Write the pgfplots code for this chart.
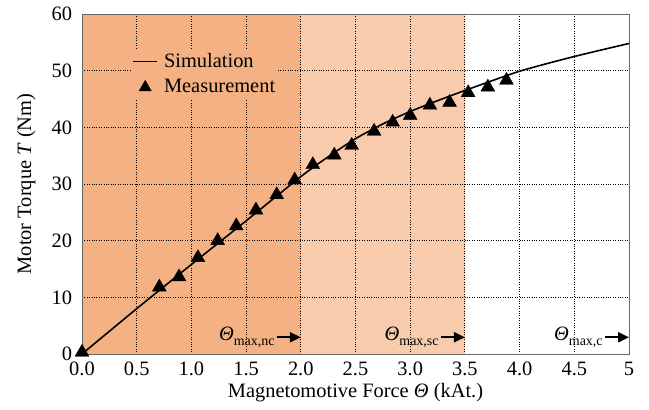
\documentclass[border=0pt]{standalone}
\usepackage{fontspec}
\setmainfont{Liberation Serif}
\usepackage{pgfplots}
\pgfplotsset{compat=1.18}
\usetikzlibrary{arrows.meta}
\definecolor{orDark}{HTML}{F4B183}
\definecolor{orLight}{HTML}{F8CBAD}
\newcommand{\thsub}[1]{\textit{Θ}\raisebox{-0.45ex}{\fontsize{14}{15}\selectfont #1}}
\pgfplotsset{
  shortline legend/.style={legend image code/.code={\draw[##1] (0bp,0bp) -- (24bp,0bp);}},
  mark legend/.style={legend image code/.code={\draw[##1, mark size=7bp] plot coordinates {(12bp,0bp)};}},
}
\begin{document}
\fontsize{20.5}{24}\selectfont
\begin{tikzpicture}[font=\fontsize{20.5}{24}\selectfont]
\begin{axis}[
  set layers,
  scale only axis,
  width=547bp, height=340bp,
  xmin=0, xmax=5, ymin=0, ymax=60,
  xtick={0,0.5,1,1.5,2,2.5,3,3.5,4,4.5,5},
  xticklabels={0.0,0.5,1.0,1.5,2.0,2.5,3.0,3.5,4.0,4.5,5},
  ytick={0,10,20,30,40,50,60},
  major tick length=0pt,
  grid=major,
  grid style={dotted, black, line width=0.9bp},
  axis line style={gray!80!black, line width=0.8bp},
  /pgf/number format/assume math mode=true,
  tick label style={font=\fontsize{20.5}{24}\selectfont},
  xticklabel style={yshift=-1bp},
  yticklabel style={xshift=-3bp},
  every axis x label/.style={at={(axis description cs:0.5,-0.113)}, anchor=center, font=\fontsize{20.5}{24}\selectfont},
  every axis y label/.style={at={(axis description cs:-0.102,0.5)}, rotate=90, anchor=center, font=\fontsize{20.5}{24}\selectfont},
  xlabel={Magnetomotive Force \textit{Θ} (kAt.)},
  ylabel={Motor Torque \textit{T} (Nm)},
  legend style={at={(0.09,0.895)}, anchor=north west, fill=orDark, draw=none,
    font=\fontsize{20.5}{24}\selectfont, row sep=5bp, column sep=4bp, inner sep=1bp},
  legend cell align=left,
]
\addplot[fill=orDark, draw=none, on layer=axis background, forget plot]
  coordinates {(0,0) (2,0) (2,60) (0,60)} -- cycle;
\addplot[fill=orLight, draw=none, on layer=axis background, forget plot]
  coordinates {(2,0) (3.5,0) (3.5,60) (2,60)} -- cycle;
\addplot[black, line width=1.6bp, smooth, tension=0.4, shortline legend] coordinates {
  (0,0) (0.5,8) (1,15.8) (1.5,23.5) (2,31.3) (2.25,34.8) (2.5,38)
  (2.75,40.6) (3,42.8) (3.25,44.7) (3.5,46.5) (4,49.9) (4.5,52.5) (5,54.8)};
\addlegendentry{Simulation}
\addplot[only marks, mark=triangle*, mark size=8bp, black, mark legend] coordinates {
  (0,0.3) (0.707,11.8) (0.887,13.6) (1.06,17.0) (1.24,20.0) (1.41,22.6)
  (1.59,25.4) (1.78,28.1) (1.944,30.7) (2.11,33.4) (2.306,35.1) (2.465,36.8)
  (2.67,39.3) (2.84,40.9) (3.0,42.1) (3.18,43.9) (3.36,44.4) (3.53,46.1)
  (3.71,47.1) (3.88,48.3)};
\addlegendentry{Measurement}
\draw[black, line width=2.2bp, -{Triangle[length=11bp,width=10bp]}] (axis cs:1.78,2.95) -- (axis cs:2,2.95);
\node[anchor=east, inner sep=1bp] at (axis cs:1.77,2.95) {\thsub{max,nc}};
\draw[black, line width=2.2bp, -{Triangle[length=11bp,width=10bp]}] (axis cs:3.28,2.95) -- (axis cs:3.5,2.95);
\node[anchor=east, inner sep=1bp] at (axis cs:3.27,2.95) {\thsub{max,sc}};
\draw[black, line width=2.2bp, -{Triangle[length=11bp,width=10bp]}] (axis cs:4.78,2.95) -- (axis cs:5,2.95);
\node[anchor=east, inner sep=1bp] at (axis cs:4.77,2.95) {\thsub{max,c}};
\coordinate (sw) at (rel axis cs:0,0);
\coordinate (ne) at (rel axis cs:1,1);
\end{axis}
\path ([shift={(-82bp,-56bp)}]sw) rectangle ([shift={(20bp,14bp)}]ne);
\end{tikzpicture}
\end{document}
